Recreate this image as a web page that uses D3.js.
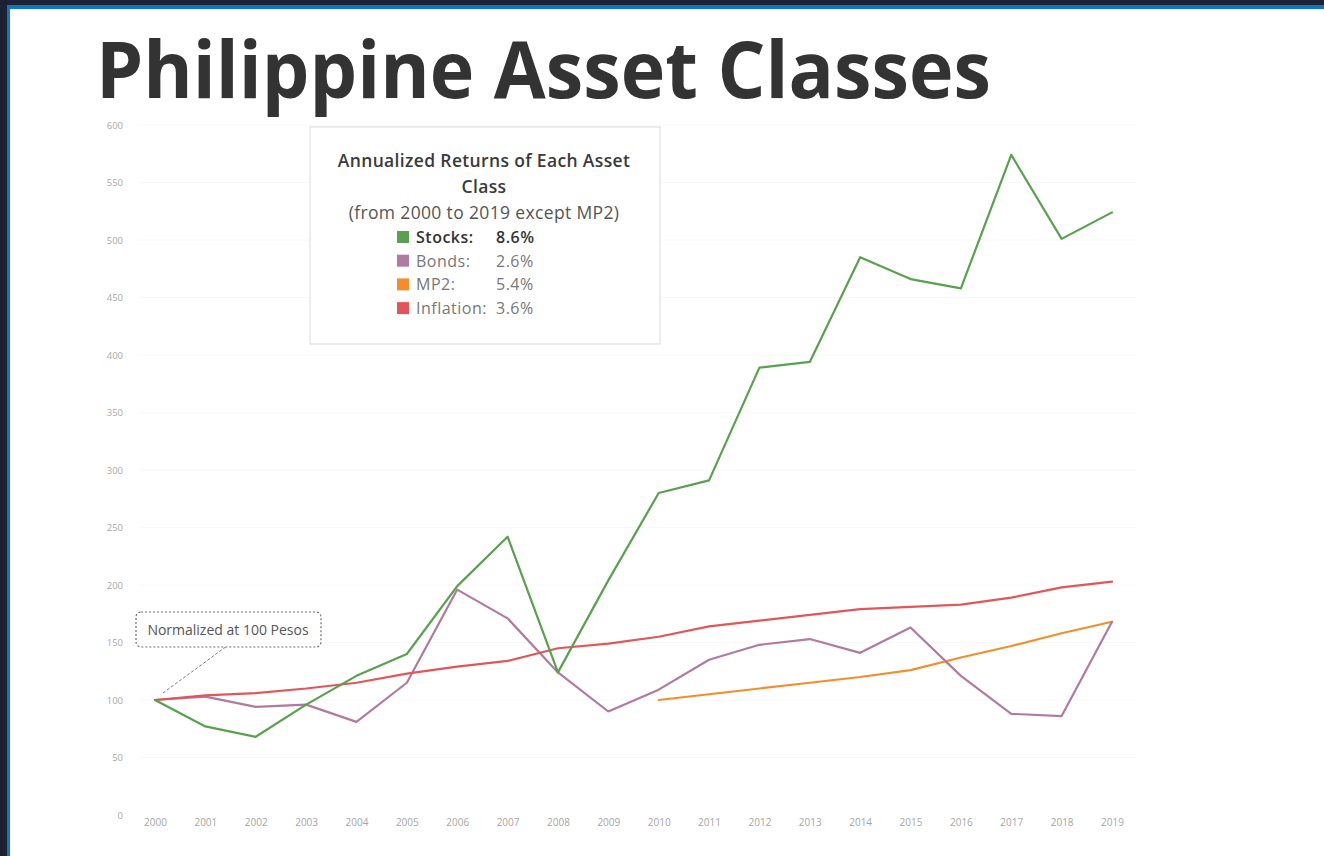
<!DOCTYPE html>
<html>
<head>
<meta charset="utf-8">
<script src="https://cdn.jsdelivr.net/npm/d3@7"></script>
<style>
  html, body { margin: 0; padding: 0; background: #ffffff; }
  #chart { width: 1324px; height: 856px; }
</style>
</head>
<body>
<div id="chart"></div>
<script>
// Data (index = 100 in 2000)
const years = d3.range(2000, 2020);
const stocks    = [100, 77, 68, 96, 121, 140, 199, 242, 124, 204, 280, 291, 389, 394, 485, 466, 458, 574, 501, 524];
const bonds     = [100, 103, 94, 96, 81, 115, 196, 171, 124, 90, 109, 135, 148, 153, 141, 163, 121, 88, 86, 168];
const mp2       = [null, null, null, null, null, null, null, null, null, null, 100, 105, 110, 115, 120, 126, 137, 147, 158, 168];
const inflation = [100, 104, 106, 110, 115, 123, 129, 134, 145, 149, 155, 164, 169, 174, 179, 181, 183, 189, 198, 203];
const yTicks = [0, 50, 100, 150, 200, 250, 300, 350, 400, 450, 500, 550, 600];

const seriesNames = ["Stocks", "Bonds", "MP2", "Inflation"];
const seriesReturns = ["8.6%", "2.6%", "5.4%", "3.6%"];
const seriesColors = ["#59a14f", "#b07aa1", "#f28e2b", "#e15759"];
const seriesValues = [stocks, bonds, mp2, inflation];

const W = 1324, H = 856;
const margin = {top: 125, right: 212, bottom: 41, left: 155};
const font = "'Open Sans', 'Noto Sans', sans-serif";

const svg = d3.select("#chart")
  .append("svg")
    .attr("width", W)
    .attr("height", H)
    .style("display", "block");

// frame of the slide
svg.append("rect").attr("x", 0).attr("y", 0).attr("width", W).attr("height", 9).attr("fill", "#0a78c2");
svg.append("rect").attr("x", 0).attr("y", 0).attr("width", 10).attr("height", H).attr("fill", "#0a78c2");
svg.append("rect").attr("x", 0).attr("y", 0).attr("width", W).attr("height", 5).attr("fill", "#1e2033");
svg.append("rect").attr("x", 0).attr("y", 0).attr("width", 7).attr("height", H).attr("fill", "#1e2033");

// title
const title = svg.append("text")
  .attr("x", 96)
  .attr("y", 98)
  .style("font-family", font)
  .style("font-weight", 700)
  .style("font-size", "78px")
  .style("fill", "#333333")
  .text("Philippine Asset Classes");
if (title.node().getComputedTextLength() > 895) {
  title.attr("textLength", 895).attr("lengthAdjust", "spacingAndGlyphs");
}

// scales
const x = d3.scalePoint()
  .domain(years)
  .range([margin.left, W - margin.right]);

const y = d3.scaleLinear()
  .domain([0, 600])
  .range([H - margin.bottom, margin.top]);

// faint gridlines
svg.append("g")
  .selectAll("line")
  .data(yTicks.filter(d => d > 0))
  .join("line")
    .attr("x1", 138)
    .attr("x2", 1136)
    .attr("y1", d => y(d))
    .attr("y2", d => y(d))
    .attr("stroke", "#f8f8f8")
    .attr("stroke-width", 1);

// y axis (labels only)
const yAxis = svg.append("g")
  .attr("transform", "translate(123,0)")
  .call(d3.axisLeft(y).tickValues(yTicks).tickSize(0).tickPadding(0));
yAxis.select(".domain").remove();
yAxis.selectAll("text")
  .style("font-family", font)
  .style("font-size", "9.5px")
  .style("fill", "#a8a8a8");

// x axis (labels only)
const xAxis = svg.append("g")
  .attr("transform", `translate(0,${H - margin.bottom + 4})`)
  .call(d3.axisBottom(x).tickSize(0).tickPadding(0).tickFormat(d3.format("d")));
xAxis.select(".domain").remove();
xAxis.selectAll("text")
  .style("font-family", font)
  .style("font-size", "10px")
  .style("fill", "#a5a5a5");

// lines (drawn back to front)
const line = d3.line()
  .defined(d => d.v != null)
  .x(d => x(d.year))
  .y(d => y(d.v));

const drawOrder = [2, 1, 3, 0];
svg.append("g")
  .selectAll("path")
  .data(drawOrder)
  .join("path")
    .attr("d", i => line(years.map((yr, j) => ({year: yr, v: seriesValues[i][j]}))))
    .attr("fill", "none")
    .attr("stroke", i => seriesColors[i])
    .attr("stroke-width", 2.2)
    .attr("stroke-linejoin", "round")
    .attr("stroke-linecap", "round");

// annotation
const ann = svg.append("g");
ann.append("line")
  .attr("x1", x(2000) + 8)
  .attr("y1", y(100) - 7)
  .attr("x2", 227)
  .attr("y2", 646)
  .attr("stroke", "#777")
  .attr("stroke-width", 1)
  .attr("stroke-dasharray", "3,2");
ann.append("rect")
  .attr("x", 136)
  .attr("y", 612)
  .attr("width", 185)
  .attr("height", 35)
  .attr("rx", 5)
  .attr("fill", "#ffffff")
  .attr("stroke", "#6f6f6f")
  .attr("stroke-width", 1.2)
  .attr("stroke-dasharray", "2,2");
ann.append("text")
  .attr("x", 228)
  .attr("y", 634.5)
  .attr("text-anchor", "middle")
  .style("font-family", font)
  .style("font-size", "14px")
  .style("fill", "#555555")
  .text("Normalized at 100 Pesos");

// legend box
const lg = svg.append("g");
lg.append("rect")
  .attr("x", 310)
  .attr("y", 127)
  .attr("width", 350)
  .attr("height", 217)
  .attr("fill", "#ffffff")
  .attr("stroke", "#e6e6e6")
  .attr("stroke-width", 1.5);

const titleLines = [
  {t: "Annualized Returns of Each Asset", w: 600, c: "#3a3a3a"},
  {t: "Class", w: 600, c: "#3a3a3a"},
  {t: "(from 2000 to 2019 except MP2)", w: 400, c: "#555555"}
];
lg.selectAll("text.head")
  .data(titleLines)
  .join("text")
    .attr("class", "head")
    .attr("x", 484)
    .attr("y", (d, i) => 167 + i * 26)
    .attr("text-anchor", "middle")
    .style("font-family", font)
    .style("font-size", "17.5px")
    .style("letter-spacing", "0.35px")
    .style("font-weight", d => d.w)
    .style("fill", d => d.c)
    .text(d => d.t);

const rows = lg.selectAll("g.row")
  .data(seriesNames)
  .join("g")
    .attr("class", "row")
    .attr("transform", (d, i) => `translate(0,${237 + i * 23.7})`);

rows.append("rect")
  .attr("x", 397)
  .attr("y", -6)
  .attr("width", 12)
  .attr("height", 12)
  .attr("fill", (d, i) => seriesColors[i]);

rows.append("text")
  .attr("x", 416)
  .attr("y", 6)
  .style("font-family", font)
  .style("font-size", "16px")
  .style("letter-spacing", "0.5px")
  .style("font-weight", (d, i) => i === 0 ? 600 : 400)
  .style("fill", (d, i) => i === 0 ? "#333333" : "#777777")
  .text(d => d + ":");

rows.append("text")
  .attr("x", 496)
  .attr("y", 6)
  .style("font-family", font)
  .style("font-size", "16px")
  .style("letter-spacing", "0.5px")
  .style("font-weight", (d, i) => i === 0 ? 600 : 400)
  .style("fill", (d, i) => i === 0 ? "#333333" : "#777777")
  .text((d, i) => seriesReturns[i]);
</script>
</body>
</html>
